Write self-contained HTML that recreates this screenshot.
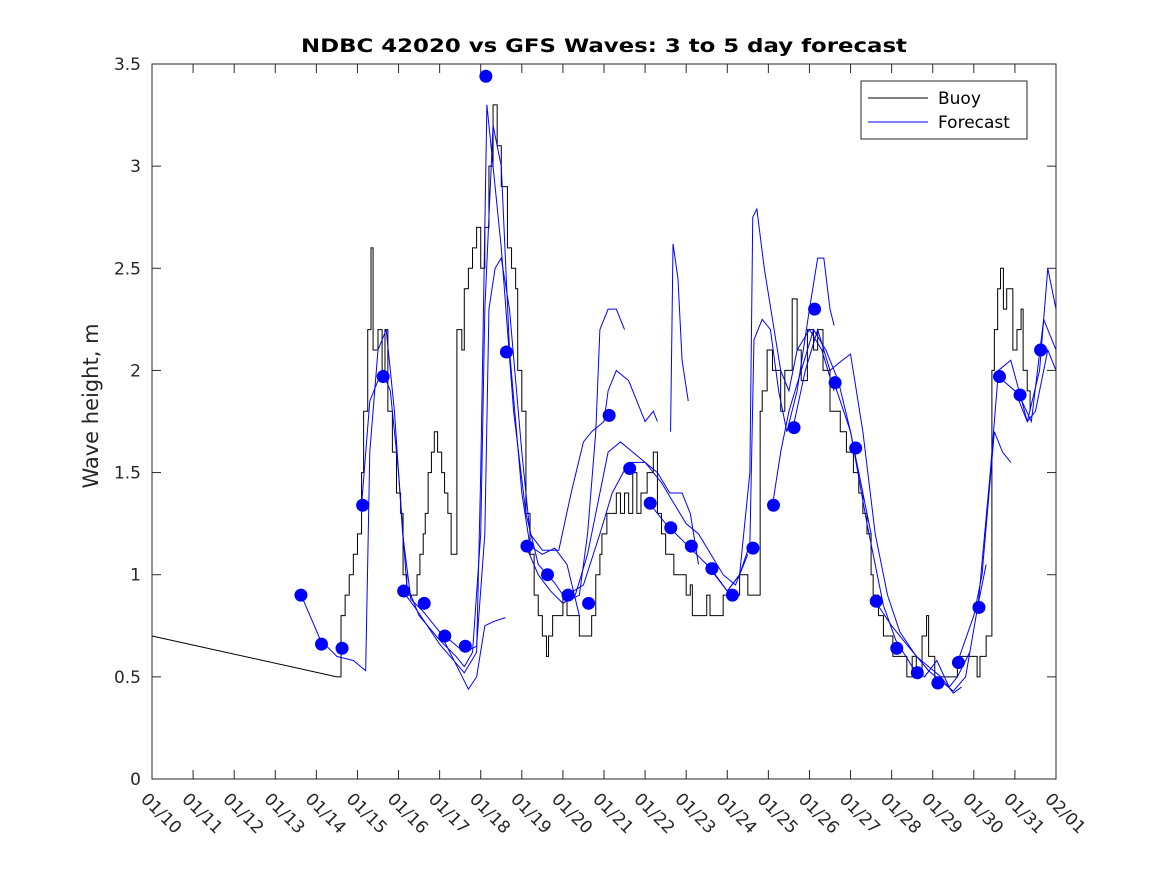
<!DOCTYPE html>
<html><head><meta charset="utf-8"><style>
html,body{margin:0;padding:0;background:#fff;}
svg{display:block;font-family:"DejaVu Sans","Liberation Sans",sans-serif;}
</style></head><body>
<svg id="chart" width="1167" height="875" viewBox="0 0 1167 875">
<rect x="0" y="0" width="1167" height="875" fill="#fff"/>
<text x="604" y="52" text-anchor="middle" font-size="19" font-weight="bold" fill="#000" textLength="606" lengthAdjust="spacingAndGlyphs">NDBC 42020 vs GFS Waves: 3 to 5 day forecast</text>
<text transform="translate(98,406) rotate(-90)" text-anchor="middle" font-size="21" fill="#262626">Wave height, m</text>
<g id="axes"></g>
<g id="buoy"></g>
<g id="fc"></g>
<g id="dots"></g>
<rect x="152" y="64" width="904" height="715" fill="none" stroke="#262626" stroke-width="1"/>
<g>
<rect x="861" y="81" width="166" height="58" fill="#fff" stroke="#262626"/>
<line x1="868" y1="98" x2="928" y2="98" stroke="#000"/>
<text x="938" y="104" font-size="17" fill="#000">Buoy</text>
<line x1="868" y1="122" x2="928" y2="122" stroke="#0000ff"/>
<text x="938" y="128" font-size="17" fill="#000">Forecast</text>
</g>
</svg>
<script>
const xTickLabels=["01/10","01/11","01/12","01/13","01/14","01/15","01/16","01/17","01/18","01/19","01/20","01/21","01/22","01/23","01/24","01/25","01/26","01/27","01/28","01/29","01/30","01/31","02/01"];
const yTicks=[0,0.5,1,1.5,2,2.5,3,3.5];
const yTickLabels=["0","0.5","1","1.5","2","2.5","3","3.5"];
const buoyT=[0,4.5,4.6,4.7,4.8,4.9,5.0,5.1,5.15,5.25,5.33,5.38,5.5,5.6,5.67,5.74,5.85,5.95,6.05,6.11,6.2,6.35,6.45,6.52,6.6,6.65,6.72,6.8,6.87,6.95,7.05,7.12,7.2,7.28,7.42,7.54,7.6,7.7,7.8,7.9,8.0,8.1,8.2,8.3,8.4,8.5,8.65,8.75,8.85,8.9,9.0,9.1,9.2,9.3,9.4,9.5,9.6,9.65,9.75,9.9,10.0,10.1,10.2,10.4,10.7,10.8,10.9,10.95,11.07,11.15,11.3,11.4,11.5,11.6,11.7,11.8,11.9,12.05,12.2,12.3,12.4,12.5,12.7,12.85,13.0,13.1,13.15,13.5,13.58,13.9,14.3,14.5,14.8,14.85,14.97,15.1,15.3,15.4,15.58,15.7,15.8,15.95,16.1,16.2,16.33,16.5,16.75,16.9,17.07,17.2,17.3,17.4,17.5,17.55,17.68,17.8,18.03,18.37,18.5,18.6,18.74,18.85,18.9,19.05,19.2,19.6,20.08,20.15,20.3,20.44,20.5,20.58,20.65,20.72,20.8,20.95,21.05,21.15,21.2,21.3,21.37];
const buoyH=[0.7,0.5,0.8,0.9,1.0,1.1,1.2,1.5,1.8,2.2,2.6,2.1,2.2,2.0,2.2,1.8,1.6,1.4,1.3,1.0,0.9,0.9,1.0,1.1,1.2,1.3,1.5,1.6,1.7,1.6,1.5,1.4,1.3,1.1,2.2,2.1,2.4,2.5,2.6,2.7,2.5,2.7,3.0,3.3,3.1,2.9,2.6,2.5,2.4,2.0,1.8,1.3,1.1,0.9,0.8,0.7,0.6,0.7,0.8,0.8,0.9,0.8,0.8,0.7,0.8,1.0,1.1,1.2,1.3,1.3,1.4,1.3,1.4,1.3,1.5,1.3,1.4,1.5,1.6,1.3,1.2,1.1,1.0,1.0,0.9,0.95,0.8,0.9,0.8,0.9,1.0,0.9,1.8,1.9,2.1,2.0,1.8,2.0,2.35,2.1,1.95,2.2,2.1,2.2,2.0,1.8,1.7,1.6,1.5,1.4,1.3,1.2,1.0,0.9,0.8,0.7,0.6,0.5,0.6,0.5,0.7,0.8,0.6,0.5,0.5,0.6,0.5,0.6,0.7,2.0,2.2,2.4,2.5,2.3,2.4,2.1,2.2,2.3,2.0,1.9,1.8,1.7];
const dotStart=3.625, dotStep=0.5;
const dotH=[0.90,0.66,0.64,1.34,1.97,0.92,0.86,0.70,0.65,3.44,2.09,1.14,1.00,0.90,0.86,1.78,1.52,1.35,1.23,1.14,1.03,0.90,1.13,1.34,1.72,2.30,1.94,1.62,0.87,0.64,0.52,0.47,0.57,0.84,1.97,1.88,2.10];
const fc1=[[3.63,.9],[4.1,.68],[4.5,.6],[4.9,.58],[5.2,.53],[5.3,1.6],[5.5,2.1],[5.7,2.2],[5.9,1.8],[6.1,1.2],[6.3,.88],[6.6,.82],[7.0,.72],[7.3,.6],[7.6,.48],[7.7,.44],[7.9,.5],[8.1,.75],[8.3,.77],[8.6,.79]];
const fc2=[[5.1,1.34],[5.3,1.85],[5.6,2.0],[5.8,1.9],[6.0,1.5],[6.2,.95],[6.5,.8],[7.0,.68],[7.4,.6],[7.6,.55],[7.8,.62],[8.0,1.2],[8.1,2.3],[8.3,3.2],[8.5,3.0],[8.7,2.1],[9.0,1.4],[9.2,1.14],[9.5,1.1],[9.8,1.13],[10.1,1.05],[10.4,.8]];
const fc3=[[6.1,.92],[6.4,.84],[7.0,.66],[7.6,.52],[7.9,.62],[8.0,1.5],[8.1,2.7],[8.15,3.3],[8.3,3.0],[8.5,2.6],[8.8,1.8],[9.1,1.3],[9.4,1.05],[9.8,.96],[10.1,.87],[10.4,.9],[10.6,1.2],[10.8,1.7],[10.9,2.2],[11.1,2.3],[11.3,2.3],[11.5,2.2]];
const fc4=[[7.13,.7],[7.6,.62],[7.9,.65],[8.1,1.2],[8.2,2.3],[8.35,2.5],[8.5,2.55],[8.7,2.3],[9.0,1.6],[9.2,1.2],[9.5,1.12],[9.9,1.12],[10.2,1.4],[10.5,1.65],[10.7,1.7],[11.0,1.75],[11.1,1.9],[11.3,2.0],[11.6,1.95],[11.9,1.8],[12.0,1.75],[12.2,1.8],[12.3,1.75]];
const fc5=[[9.1,1.14],[9.4,1.0],[9.7,.92],[10.0,.86],[10.3,.9],[10.6,1.1],[10.9,1.4],[11.1,1.6],[11.4,1.65],[11.7,1.6],[12.0,1.55],[12.3,1.5],[12.6,1.4],[12.9,1.4],[13.1,1.3],[13.3,1.05]];
const fc6=[[10.1,.9],[10.5,.95],[10.9,1.2],[11.2,1.4],[11.6,1.55],[12.0,1.55],[12.4,1.45],[12.7,1.35],[13.0,1.25],[13.3,1.2],[13.6,1.1],[13.9,1.0],[14.2,.95],[14.5,1.1]];
const fc7=[[12.62,1.7],[12.68,2.62],[12.8,2.45],[12.9,2.05],[13.05,1.85]];
const fc8=[[12.1,1.35],[12.5,1.25],[13.0,1.15],[13.5,1.05],[14.0,.92],[14.3,1.0],[14.45,1.3],[14.55,1.5],[14.62,2.75],[14.72,2.79],[14.9,2.5],[15.1,2.25],[15.3,2.0],[15.5,1.9],[15.7,2.1],[16.0,2.2],[16.3,2.1],[16.6,1.9]];
const fc9=[[13.6,1.03],[14.0,.92],[14.3,1.0],[14.55,1.15],[14.65,2.15],[14.85,2.25],[15.05,2.2],[15.25,1.9],[15.45,1.7],[15.7,1.9],[16.0,2.3],[16.2,2.55],[16.35,2.55],[16.5,2.3],[16.6,2.22]];
const fc10=[[15.1,1.34],[15.3,1.6],[15.5,1.8],[15.8,2.0],[16.1,2.2],[16.4,2.1],[16.7,1.95],[17.0,1.7],[17.3,1.4],[17.5,1.2]];
const fc11=[[15.6,1.72],[15.9,2.0],[16.2,2.2],[16.5,2.0],[16.8,2.05],[17.0,2.08],[17.3,1.7],[17.6,1.2],[17.9,.9],[18.2,.72],[18.6,.6],[18.9,.55],[19.2,.5],[19.5,.42],[19.7,.45]];
const fc12=[[16.6,1.94],[17.0,1.7],[17.4,1.25],[17.8,.85],[18.1,.68],[18.5,.55],[18.8,.5],[19.1,.58],[19.4,.45],[19.6,.5],[19.9,.62]];
const fc13=[[17.6,.87],[18.0,.75],[18.4,.65],[18.9,.53],[19.2,.48],[19.5,.43],[19.8,.5],[20.1,.85],[20.3,1.05]];
const fc14=[[19.6,.57],[20.0,.8],[20.2,1.0],[20.5,1.7],[20.7,1.6],[20.9,1.55]];
const fc15=[[20.1,.84],[20.4,1.5],[20.6,2.0],[20.9,2.05],[21.1,1.9],[21.3,1.75],[21.5,1.8],[21.8,2.1],[22,2.0]];
const fc16=[[20.6,1.97],[21.0,1.9],[21.3,1.75],[21.6,2.0],[21.8,2.5],[22,2.3]];
const fc17=[[21.1,1.88],[21.4,1.75],[21.7,2.25],[22,2.1]];
const forecasts=[fc1,fc2,fc3,fc4,fc5,fc6,fc7,fc8,fc9,fc10,fc11,fc12,fc13,fc14,fc15,fc16,fc17];

const NS="http://www.w3.org/2000/svg";
const X0=152,X1=1056,Y0=779,Y1=64;
const xs=d=>X0+(X1-X0)*d/22;
const ys=v=>Y0-(Y0-Y1)*v/3.5;
function mk(tag,attrs,parent){const e=document.createElementNS(NS,tag);for(const k in attrs)e.setAttribute(k,attrs[k]);parent.appendChild(e);return e;}
const axes=document.getElementById('axes');
xTickLabels.forEach((lab,i)=>{
  const x=xs(i);
  const t1=mk('line',{x1:x,y1:Y0,x2:x,y2:Y0-9,stroke:'#262626'},axes);
  
  
  const t2=mk('line',{x1:x,y1:Y1,x2:x,y2:Y1+9,stroke:'#262626'},axes);
  
  
  const tx=mk('text',{x:x-12,y:800,'font-size':17,fill:'#262626',transform:`rotate(45 ${x-12} 800)`},axes);
  tx.textContent=lab;
  
  
});
yTicks.forEach((v,i)=>{
  const y=ys(v);
  const t1=mk('line',{x1:X0,y1:y,x2:X0+9,y2:y,stroke:'#262626'},axes);
  
  
  const t2=mk('line',{x1:X1,y1:y,x2:X1-9,y2:y,stroke:'#262626'},axes);
  
  
  const tx=mk('text',{x:141,y:y+6,'font-size':17,fill:'#262626','text-anchor':'end'},axes);
  tx.textContent=yTickLabels[i];
  
  
});
let d=`M${xs(buoyT[0])},${ys(buoyH[0])} L${xs(buoyT[1])},${ys(buoyH[1])}`;
for(let i=2;i<buoyT.length;i++){d+=` H${xs(buoyT[i])} V${ys(buoyH[i])}`;}
const bp=mk('path',{d:d,fill:'none',stroke:'#000','stroke-width':1},document.getElementById('buoy'));


const fcg=document.getElementById('fc');
forecasts.forEach(run=>{
  const p=mk('polyline',{points:run.map(q=>xs(q[0])+','+ys(q[1])).join(' '),fill:'none',stroke:'#0000ff','stroke-width':1},fcg);
  
  
});
const dg=document.getElementById('dots');
dotH.forEach((v,i)=>{
  const c=mk('circle',{cx:xs(dotStart+i*dotStep),cy:ys(v),r:6.5,fill:'#0000ff'},dg);
  
  
});
</script>
</body></html>
